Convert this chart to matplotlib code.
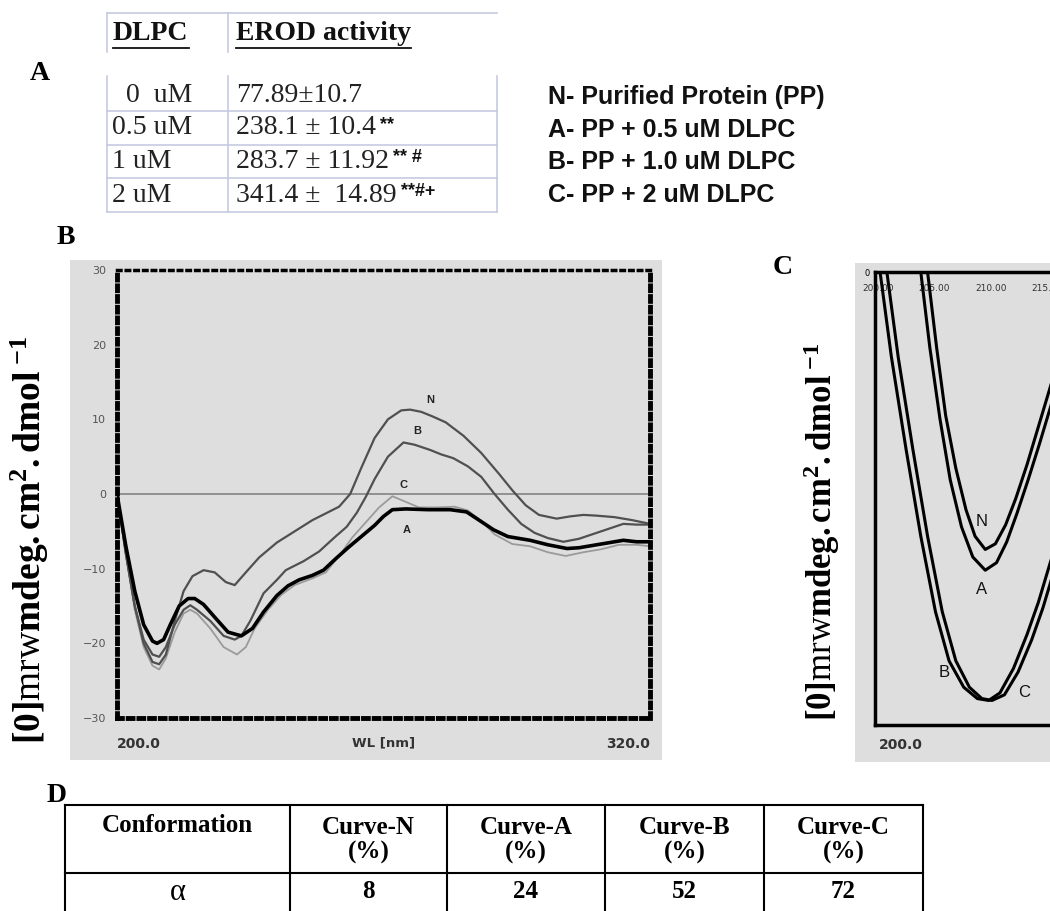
import matplotlib
matplotlib.use("Agg")
import matplotlib.pyplot as plt
from matplotlib.patches import Rectangle

plt.rcParams['mathtext.fontset'] = 'custom'
plt.rcParams['mathtext.rm'] = 'Liberation Serif'
plt.rcParams['mathtext.bf'] = 'Liberation Serif:bold'
plt.rcParams['mathtext.it'] = 'Liberation Serif:italic'

SERIF = 'Liberation Serif'
SANS = 'Liberation Sans'

# panel A table
dlpc = ['  0  uM', '0.5 uM', '1 uM', '2 uM']
erod = ['77.89\u00b110.7', '238.1 \u00b1 10.4', '283.7 \u00b1 11.92', '341.4 \u00b1  14.89']
marks = ['', '**', '** #', '**#+']

legend_lines = ['N- Purified Protein (PP)', 'A- PP + 0.5 uM DLPC',
                'B- PP + 1.0 uM DLPC', 'C- PP + 2 uM DLPC']

# panel B: CD spectra (nm, mdeg)
wl_N = [200, 202, 204, 206, 208, 209.5, 211, 213, 215, 217, 219.5, 222, 224.5, 226.5, 229, 232, 236, 240,
        244, 247, 250, 252.5, 255, 258, 261, 264, 266, 268.5, 271, 274, 278, 282, 286, 289, 292, 295,
        299, 302, 305, 308, 312, 316, 320]
cd_N = [0, -8, -15, -20, -22.5, -22.8, -21.5, -17, -13, -11, -10.2, -10.5, -11.8, -12.2, -10.5, -8.5, -6.5, -5,
        -3.5, -2.6, -1.7, 0, 3.5, 7.5, 10, 11.2, 11.3, 11, 10.4, 9.6, 7.8, 5.5, 2.7, 0.5, -1.5, -2.8,
        -3.3, -3, -2.8, -2.9, -3.1, -3.5, -4]

wl_B = [200, 202, 204, 206, 208, 209.5, 211, 213, 215, 216.5, 218, 221, 224, 226.5, 228, 230, 233, 236,
        238, 242, 245.5, 249, 251.7, 254, 256, 258, 261, 264.5, 267, 270.5, 273, 275.7, 279, 282, 285,
        288, 291, 294, 297, 300.5, 304, 308, 311, 314, 317, 320]
cd_B = [0, -8, -15, -19.5, -21.5, -21.8, -20.5, -17.5, -15.5, -14.9, -15.5, -17, -19, -19.5, -19, -17, -13.3, -11.5,
        -10.2, -9, -7.7, -5.8, -4.4, -2.5, -0.4, 2, 5, 6.9, 6.6, 5.9, 5.3, 4.8, 3.7, 2.3, 0,
        -2.1, -4, -5.2, -5.9, -6.4, -6, -5.2, -4.6, -4.0, -4.1, -4.1]

wl_A = [200, 202, 204, 206, 208, 209, 210.5, 212, 214, 216, 217.5, 219.5, 222, 225, 228, 230.5, 233, 236,
        238.5, 241, 244, 246.5, 249, 252, 255, 258, 260, 262, 265, 270, 275, 278.7, 281, 284.8, 288,
        293, 297, 301.3, 304, 308, 311, 314, 317, 320]
cd_A = [0, -7, -13, -17.5, -19.7, -20, -19.5, -17.5, -15, -14, -14, -14.8, -16.5, -18.5, -19, -18, -15.8, -13.6,
        -12.3, -11.5, -10.9, -10.2, -8.8, -7.2, -5.7, -4.2, -3, -2.1, -2, -2.1, -2.1, -2.4, -3.3, -4.8, -5.7,
        -6.2, -6.8, -7.3, -7.2, -6.8, -6.5, -6.2, -6.4, -6.4]

wl_C = [200, 202, 204, 206, 208, 209.5, 211, 213, 215, 216.5, 218, 221, 224, 227, 229, 231, 234, 237,
        240, 244, 247, 250, 253, 256, 259, 262, 264, 268, 272, 276, 279, 282, 285, 289, 293, 297,
        301, 305, 309, 313, 317, 320]
cd_C = [0, -8, -15.5, -20.5, -23, -23.5, -22, -18.5, -16, -15.5, -16, -18, -20.5, -21.5, -20.5, -18, -15.5, -13.5,
        -12.2, -11.3, -10.5, -8.3, -5.8, -3.8, -1.8, -0.3, -0.8, -1.8, -1.8, -1.7, -2.2, -3.6, -5.4, -6.7, -7, -7.8,
        -8.3, -7.8, -7.4, -6.8, -6.8, -7]

# panel C: zoomed 200-215 nm region
zwl_N = [204.4, 205.2, 206.0, 206.9, 207.8, 208.6, 209.5, 210.4, 211.3, 212.2, 213.2, 214.2, 215.2, 216.5, 218]
zcd_N = [0, -4, -7.6, -10.4, -12.6, -14, -14.7, -14.4, -13.4, -12, -10.2, -8.2, -6.2, -3.6, -0.5]
zwl_A = [203.8, 204.6, 205.5, 206.4, 207.4, 208.4, 209.5, 210.5, 211.4, 212.3, 213.3, 214.3, 215.2, 216.5, 218]
zcd_A = [0, -4, -7.8, -11, -13.5, -15.1, -15.8, -15.4, -14.3, -12.8, -11, -9.1, -7.3, -4.8, -2]
zwl_B = [200.2, 201.2, 202.5, 203.8, 205.1, 206.3, 207.6, 208.8, 209.8, 210.8, 212, 213.2, 214.2, 215.2, 216.5, 218]
zcd_B = [0, -4.5, -9.4, -14, -18, -20.6, -22, -22.6, -22.7, -22.3, -21, -19.2, -17.5, -15.5, -13, -10]
zwl_C = [200.8, 201.8, 203.1, 204.4, 205.7, 206.9, 208.1, 209.2, 210.1, 211.2, 212.4, 213.6, 214.6, 215.6, 216.8, 218]
zcd_C = [0, -4.5, -9.4, -14, -18, -20.6, -22, -22.6, -22.7, -22.4, -21.2, -19.5, -17.8, -15.8, -13.4, -11]

# panel D table
conf_header = ['Conformation', 'Curve-N\n(%)', 'Curve-A\n(%)', 'Curve-B\n(%)', 'Curve-C\n(%)']
alpha_row = ['\u03b1', '8', '24', '52', '72']

W, H = 1050, 911
fig = plt.figure(figsize=(W / 100, H / 100), dpi=100)

# overlay in pixel coordinates for tables / labels / backgrounds
ov = fig.add_axes([0, 0, 1, 1], zorder=0)
ov.set_xlim(0, W)
ov.set_ylim(H, 0)
ov.axis('off')

ov.add_patch(Rectangle((70, 260), 592, 500, color='#dedede', lw=0))
ov.add_patch(Rectangle((855, 263), 200, 499, color='#dedede', lw=0))

# ---- panel A ----
tcol = '#c5cbe0'
ov.plot([107, 497], [13, 13], color=tcol, lw=1.2)
for xv in [107, 228]:
    ov.plot([xv, xv], [13, 52], color=tcol, lw=1.2)
    ov.plot([xv, xv], [76, 212], color=tcol, lw=1.2)
ov.plot([497, 497], [76, 212], color=tcol, lw=1.2)
for yv in [111, 145, 178, 212]:
    ov.plot([107, 497], [yv, yv], color=tcol, lw=1.2)

h1 = ov.text(113, 34, 'DLPC', fontsize=20, fontweight='bold', family=SERIF, va='center', color='#111')
h2 = ov.text(236, 34, 'EROD activity', fontsize=20, fontweight='bold', family=SERIF, va='center', color='#111')

row_y = [95, 128, 161, 195]
for i in range(4):
    ov.text(112, row_y[i], dlpc[i], fontsize=20, family=SERIF, va='center', color='#222')
    t = ov.text(236, row_y[i], erod[i], fontsize=20, family=SERIF, va='center', color='#222')
    if marks[i]:
        ov.annotate(marks[i], xy=(1, 0.62), xycoords=t, xytext=(3, 0), textcoords='offset points',
                    fontsize=13, fontweight='bold', family=SANS, va='center', color='#111')

ov.text(40, 73, 'A', fontsize=20, fontweight='bold', family=SERIF, ha='center', va='center')

for i, s in enumerate(legend_lines):
    ov.text(548, 97 + i * 32.7, s, fontsize=18, fontweight='bold', family=SANS, va='center', color='#111')

# ---- panel B ----
ov.text(66, 238, 'B', fontsize=20, fontweight='bold', family=SERIF, ha='center', va='center')
ylab = r'$\mathbf{[0]}\mathrm{mrw}\mathbf{mdeg.cm^{2}.dmol}^{\ \mathbf{-1}}$'
ov.text(30, 540, ylab, fontsize=27, rotation=90, ha='center', va='center')

axB = fig.add_axes([117 / W, 1 - 718 / H, 533 / W, 448 / H], zorder=1)
axB.set_facecolor('none')
axB.axhline(0, color='#8a8a8a', lw=1.3)
axB.plot(wl_C, cd_C, color='#9a9a9a', lw=1.3)
axB.plot(wl_N, cd_N, color='#505050', lw=1.6)
axB.plot(wl_B, cd_B, color='#505050', lw=1.6)
axB.plot(wl_A, cd_A, color='#000000', lw=2.6)
for lbl, xv, yv in [('N', 270.5, 12.6), ('B', 267.5, 8.4), ('C', 264.5, 1.2), ('A', 265.2, -4.8)]:
    axB.text(xv, yv, lbl, fontsize=8, fontweight='bold', family=SANS, ha='center', va='center', color='#222')
axB.set_xlim(200, 320)
axB.set_ylim(-30, 30)
axB.set_yticks([-30, -20, -10, 0, 10, 20, 30])
axB.set_xticks([200, 320], ['200.0', '320.0'])
xl = axB.get_xticklabels()
xl[0].set_ha('left')
xl[1].set_ha('right')
axB.tick_params(axis='y', length=0, labelsize=8, labelcolor='#555', pad=8)
axB.tick_params(axis='x', length=0, labelsize=10, labelcolor='#333', pad=14)
for lb in axB.get_xticklabels():
    lb.set_fontweight('bold')
axB.set_xlabel('WL [nm]', fontsize=9.5, fontweight='bold', color='#333', labelpad=-11)
for side in ['left', 'right', 'bottom']:
    axB.spines[side].set_linestyle((0, (1, 1.2)))
    axB.spines[side].set_linewidth(3.5)
axB.spines['top'].set_linestyle((0, (1, 1.5)))
axB.spines['top'].set_linewidth(2.5)

# ---- panel C ----
ov.text(783, 268, 'C', fontsize=20, fontweight='bold', family=SERIF, ha='center', va='center')
ov.text(822, 532, ylab, fontsize=25, rotation=90, ha='center', va='center')

axC = fig.add_axes([875 / W, 1 - 725 / H, 342 / W, 453 / H], zorder=1)
axC.set_facecolor('none')
for xs, ys in [(zwl_N, zcd_N), (zwl_A, zcd_A), (zwl_B, zcd_B), (zwl_C, zcd_C)]:
    axC.plot(xs, ys, color='#000000', lw=2.2)
for lbl, xv, yv in [('N', 209.2, -13.2), ('A', 209.2, -16.8), ('B', 205.9, -21.2), ('C', 212.9, -22.3)]:
    axC.text(xv, yv, lbl, fontsize=12, family=SANS, ha='center', va='center', color='#111')
axC.set_xlim(199.75, 230)
axC.set_ylim(-24, 0)
axC.set_xticks([200, 205, 210, 215], ['200.00', '205.00', '210.00', '215.00'])
axC.tick_params(axis='x', top=True, labeltop=True, bottom=False, labelbottom=False,
                length=0, labelsize=6.5, labelcolor='#333', pad=-15)
axC.set_yticks([0])
axC.tick_params(axis='y', length=0, labelsize=6, pad=4)
axC.text(0.01, -0.045, '200.0', transform=axC.transAxes, fontsize=10, fontweight='bold',
         color='#333', ha='left', va='center')
for sp in axC.spines.values():
    sp.set_linewidth(2.5)

# ---- panel D ----
ov.text(57, 795, 'D', fontsize=20, fontweight='bold', family=SERIF, ha='center', va='center')
col_x = [65, 290, 447, 605, 764, 923]
ov.plot([65, 923], [805, 805], color='black', lw=1.5)
ov.plot([65, 923], [873, 873], color='black', lw=1.5)
for xv in col_x:
    ov.plot([xv, xv], [805, 911], color='black', lw=1.5)
for i in range(5):
    cx = (col_x[i] + col_x[i + 1]) / 2
    if i == 0:
        ov.text(cx, 825, conf_header[i], fontsize=18, fontweight='bold', family=SERIF,
                ha='center', va='center')
    else:
        ov.text(cx, 840, conf_header[i], fontsize=18, fontweight='bold', family=SERIF,
                ha='center', va='center', linespacing=1.05)
    ov.text(cx, 892, alpha_row[i], fontsize=18 if i else 22, fontweight='bold' if i else 'normal',
            family=SERIF, ha='center', va='center')

# underline headers of table A
fig.canvas.draw()
inv = ov.transData.inverted()
for t in [h1, h2]:
    bb = t.get_window_extent()
    (x0, y0), (x1, y1) = inv.transform([[bb.x0, bb.y0], [bb.x1, bb.y1]])
    ov.plot([x0, x1], [y0 + 1, y0 + 1], color='#111', lw=1.3)

fig.savefig('out.png', dpi=100)
